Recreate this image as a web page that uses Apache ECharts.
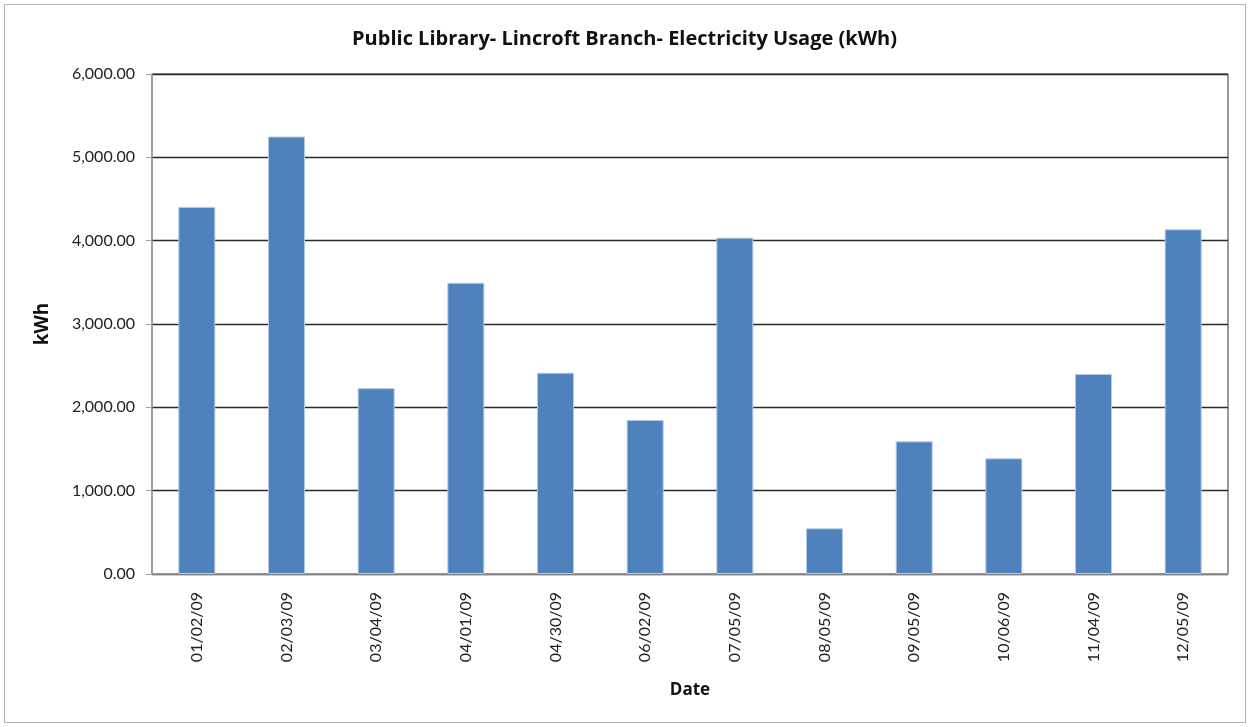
<!DOCTYPE html>
<html>
<head>
<meta charset="utf-8">
<script src="https://cdn.jsdelivr.net/npm/echarts@6/dist/echarts.min.js"></script>
<style>
html,body{margin:0;padding:0;background:#fff;}
#chart{width:1249px;height:727px;}
</style>
</head>
<body>
<div id="chart"></div>
<script>
const categories = ['01/02/09','02/03/09','03/04/09','04/01/09','04/30/09','06/02/09','07/05/09','08/05/09','09/05/09','10/06/09','11/04/09','12/05/09'];
const kwhValues = [4405, 5250, 2230, 3495, 2415, 1848, 4036, 548, 1592, 1388, 2400, 4136];
const yTicks = [0, 1000, 2000, 3000, 4000, 5000, 6000];

const chart = echarts.init(document.getElementById('chart'));
const fontFam = 'Lato, "Open Sans", sans-serif';
const boldFam = '"Open Sans", Lato, sans-serif';
chart.setOption({
  animation: false,
  backgroundColor: '#fff',
  title: {
    text: 'Public Library- Lincroft Branch- Electricity Usage (kWh)',
    left: 'center',
    top: 24,
    textStyle: {fontFamily: boldFam, fontSize: 20, fontWeight: 'bold', color: '#111'}
  },
  graphic: [{
    type: 'rect',
    shape: {x: 4.5, y: 4.5, width: 1241, height: 718},
    style: {fill: 'none', stroke: '#b0b0b0', lineWidth: 1},
    silent: true, z: -1
  }],
  grid: {left: 152, right: 21, top: 74, bottom: 153, show: true, borderColor: '#333', borderWidth: 1, containLabel: false},
  xAxis: {
    type: 'category',
    data: categories,
    name: 'Date',
    nameLocation: 'middle',
    nameGap: 108,
    nameTextStyle: {fontFamily: boldFam, fontSize: 17, fontWeight: 'bold', color: '#111'},
    axisLine: {show: true, lineStyle: {color: '#a0a0a0', width: 1.5}},
    axisTick: {show: false},
    axisLabel: {rotate: 90, margin: 18, fontFamily: fontFam, fontSize: 16, color: '#222', interval: 0}
  },
  yAxis: {
    type: 'value',
    min: yTicks[0],
    max: yTicks[yTicks.length - 1],
    interval: 1000,
    name: 'kWh',
    nameLocation: 'middle',
    nameGap: 100,
    nameRotate: 90,
    nameTextStyle: {fontFamily: boldFam, fontSize: 19, fontWeight: 'bold', color: '#111'},
    axisLine: {show: true, lineStyle: {color: '#a0a0a0', width: 1.5}},
    axisTick: {show: true, length: 6, lineStyle: {color: '#a0a0a0'}},
    splitLine: {show: true, lineStyle: {color: '#2a2a2a', width: 1.4}},
    axisLabel: {
      margin: 17,
      fontFamily: fontFam, fontSize: 16, color: '#222',
      formatter: v => v.toLocaleString('en-US', {minimumFractionDigits: 2, maximumFractionDigits: 2})
    }
  },
  series: [{
    type: 'bar',
    data: kwhValues,
    barWidth: 37,
    itemStyle: {color: '#4F81BD', borderColor: '#b3c9e3', borderWidth: 1}
  }]
});
</script>
</body>
</html>
